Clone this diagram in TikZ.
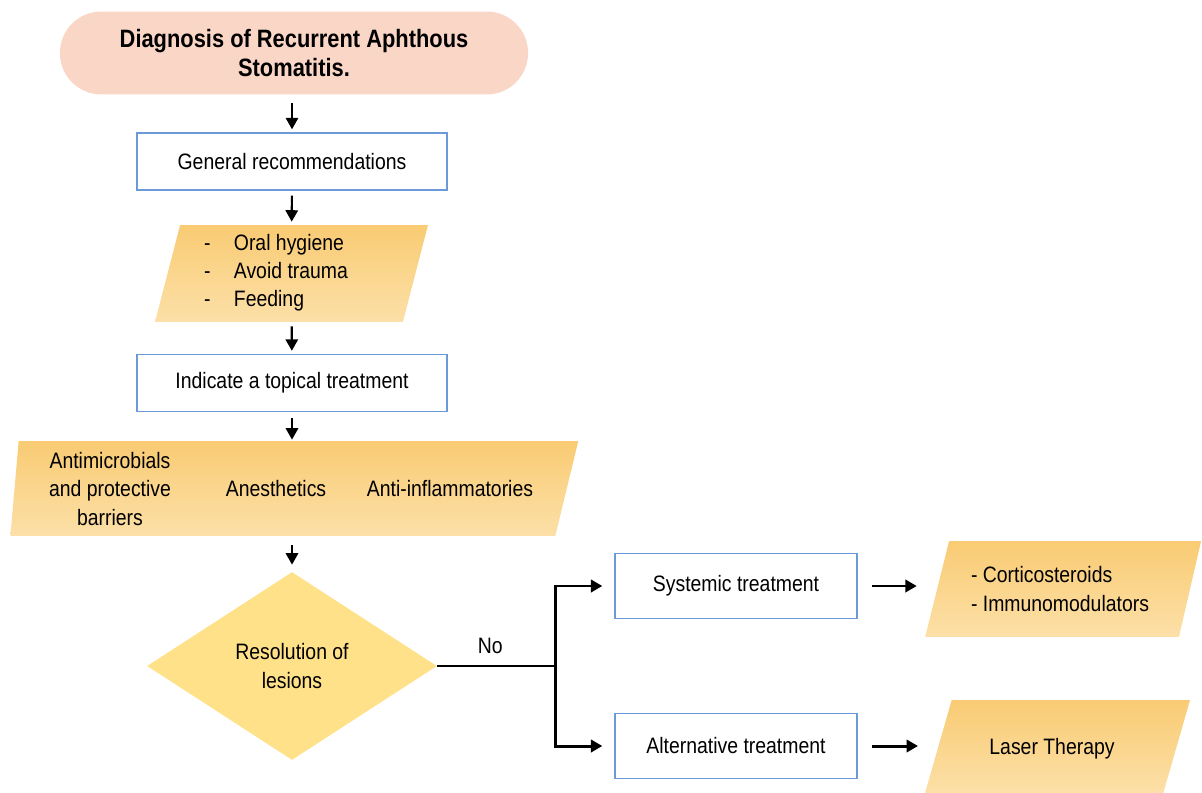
\documentclass[tikz,border=0pt]{standalone}
\usepackage{fontspec}
\setmainfont{Liberation Sans}[FakeStretch=0.87]
\usetikzlibrary{arrows.meta,shapes.geometric,shapes.misc}

\begin{document}
\begin{tikzpicture}[x=0.02cm, y=-0.02cm,
    % arrows as in the flow chart
    >={Triangle[length=6.5pt,width=7pt]},
    font=\fontsize{12.7pt}{16pt}\selectfont,
    terminal/.style={rounded rectangle, fill=salmon, minimum width=9.6cm,
        minimum height=1.66cm, align=center, font=\fontsize{14.3pt}{16.4pt}\selectfont\bfseries},
    action/.style={draw=boxblue, line width=0.8pt, fill=white, minimum width=#1,
        minimum height=1.14cm},
    action/.default=6.2cm,
    data/.style={trapezium, trapezium stretches body, top color=orangetop,
        bottom color=orangebot, inner sep=0pt, text height=#1, text depth=#1},
    decision/.style={diamond, fill=gold, minimum width=5.8cm, minimum height=3.76cm,
        align=center},
    flow/.style={->, line width=1.2pt},
    bold flow/.style={->, line width=1.7pt},
]
    % Colors
    \definecolor{salmon}{HTML}{FAD6C6}
    \definecolor{boxblue}{HTML}{6A9BD8}
    \definecolor{orangetop}{HTML}{F9CB73}
    \definecolor{orangebot}{HTML}{FCE0A8}
    \definecolor{gold}{HTML}{FFE18A}

    \useasboundingbox (0,0) rectangle (1202,793);

    % Main column
    \node[terminal] (diagnosis) at (294,53) {Diagnosis of Recurrent Aphthous\\Stomatitis.};
    \node[action] (general) at (292,161.5) {General recommendations};
    \node[data=0.97cm, trapezium left angle=75.5, trapezium right angle=104.5,
        minimum width=5.46cm] (habits) at (291.5,273.5) {};
    \node[align=left] (habitlist) at (276,273)
        {\makebox[17pt][l]{-}Oral hygiene\\\makebox[17pt][l]{-}Avoid trauma\\\makebox[17pt][l]{-}Feeding};
    \node[action] (topical) at (292,383) {Indicate a topical treatment};

    % Topical agents
    \node[data=0.95cm, trapezium left angle=85, trapezium right angle=103.6,
        minimum width=11.36cm] (agents) at (287,488.5) {};
    \node[align=center] (antimicrobials) at (110,489) {Antimicrobials\\and protective\\barriers};
    \node (anesthetics) at (276,489) {Anesthetics};
    \node (antiinflam) at (450,489) {Anti-inflammatories};

    \node[decision] (resolution) at (292,666) {Resolution of\\lesions};

    % Right branch
    \coordinate (fork) at (555,666);
    \node[action=4.84cm, minimum height=1.3cm] (systemic) at (736,586) {Systemic treatment};
    \node[action=4.84cm, minimum height=1.3cm] (alternative) at (736,746) {Alternative treatment};
    \node[data=0.96cm, trapezium left angle=76, trapezium right angle=103,
        minimum width=5.52cm] (drugs) at (1064,589) {};
    \node[align=left] (druglist) at (1060,589) {- Corticosteroids\\- Immunomodulators};
    \node[data=0.93cm, trapezium left angle=74, trapezium right angle=106,
        minimum width=5.3cm] (laser) at (1057.5,746.5) {};
    \node (lasertext) at (1052,749) {Laser Therapy};

    % Connectors
    \draw[flow, shorten <=0.16cm, shorten >=0.06cm] (diagnosis.south -| general) -- (general);
    \draw[flow, shorten <=0.1cm, shorten >=0.06cm] (general) -- (habits);
    \draw[flow, shorten <=0.08cm, shorten >=0.06cm] (habits) -- (topical);
    \draw[flow, shorten <=0.12cm, shorten >=0.02cm] (topical) -- (agents.north -| topical);
    \draw[flow, shorten <=0.18cm, shorten >=0.14cm] (agents.south -| resolution) -- (resolution);

    \draw[line width=1.7pt] (resolution.east) -- node[above=3pt, pos=0.45] {No} (fork);
    \draw[bold flow, shorten >=0.24cm] (fork) |- (systemic.west);
    \draw[bold flow, shorten >=0.24cm] (fork) |- (alternative.west);

    \draw[bold flow, shorten <=0.28cm, shorten >=0.4cm] (systemic.east) -- (drugs.west |- systemic.east);
    \draw[bold flow, shorten <=0.28cm, shorten >=0.4cm] (alternative.east) -- (laser.west |- alternative.east);
\end{tikzpicture}
\end{document}
